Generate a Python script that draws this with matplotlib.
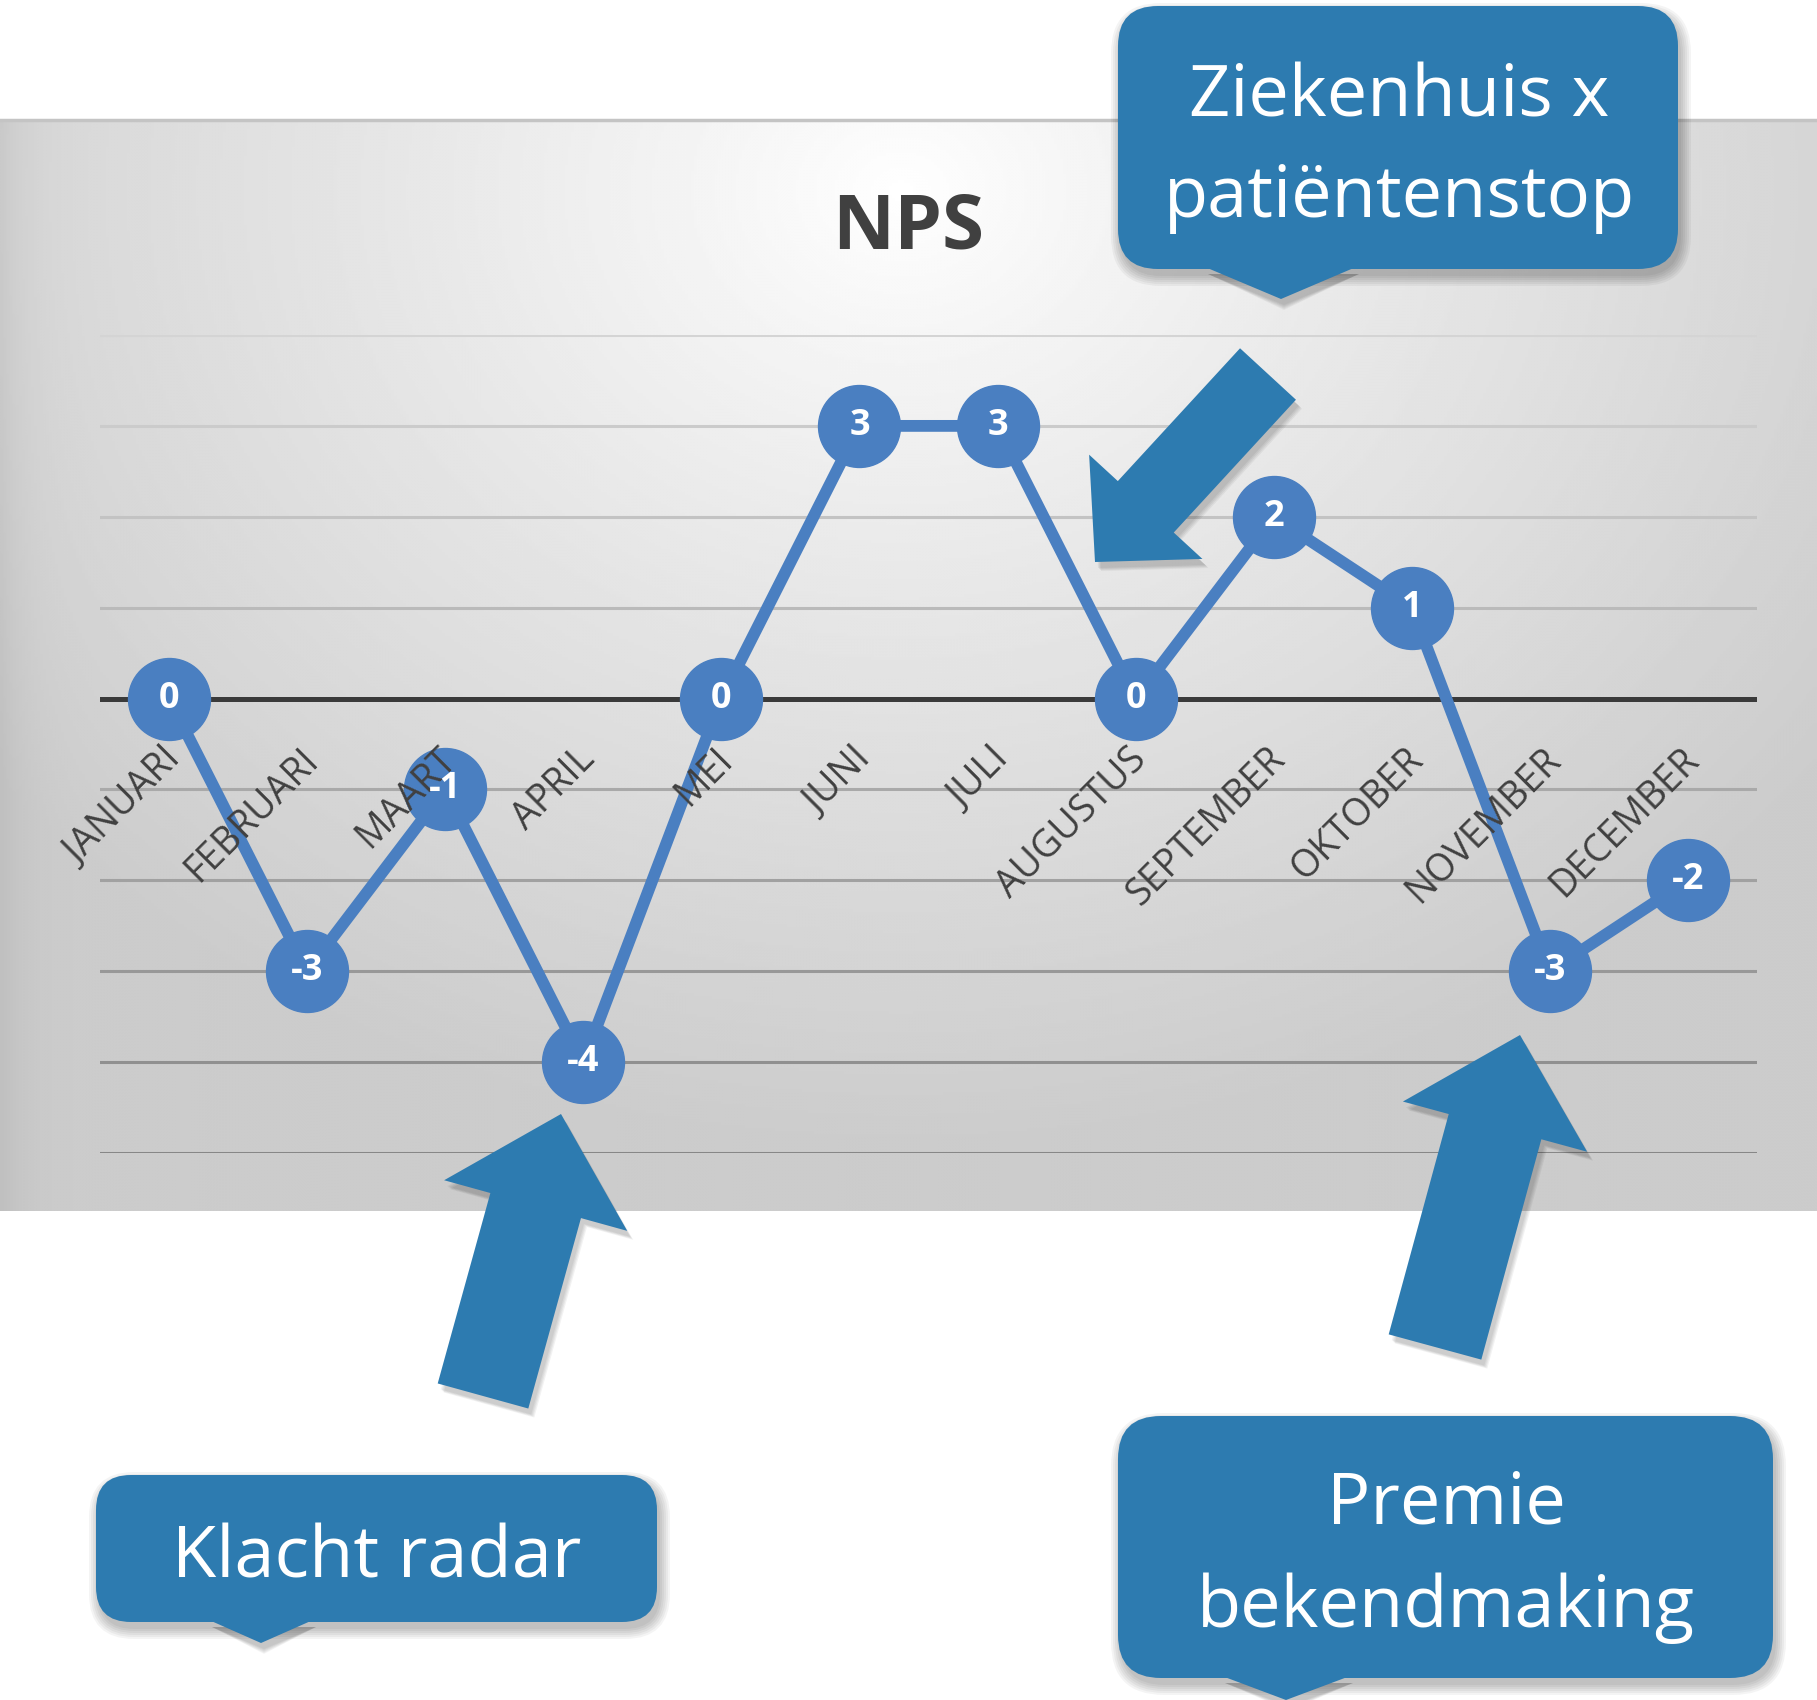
import matplotlib
matplotlib.use("Agg")
import matplotlib.pyplot as plt
import numpy as np
from matplotlib.patches import FancyBboxPatch, Polygon, FancyArrow

plt.rcParams['font.family'] = ['Open Sans', 'DejaVu Sans']

# data
maanden = ["JANUARI", "FEBRUARI", "MAART", "APRIL", "MEI", "JUNI", "JULI",
           "AUGUSTUS", "SEPTEMBER", "OKTOBER", "NOVEMBER", "DECEMBER"]
nps = [0, -3, -1, -4, 0, 3, 3, 0, 2, 1, -3, -2]
rasterlijnen = list(range(-5, 5))

W, H = 1817, 1700
BLAUW = '#4a7fc1'
CALLOUT = '#2d7bb0'

fig = plt.figure(figsize=(W / 100, H / 100), dpi=100)

# achtergrond paneel (pixel coordinaten, y naar beneden)
bg = fig.add_axes([0, 0, 1, 1], zorder=0)
bg.set_xlim(0, W)
bg.set_ylim(H, 0)
bg.axis("off")

yy, xx = np.mgrid[119:1211:3, 0:W:3]
r = np.sqrt(((xx - 900) / 1150.0) ** 2 + ((yy - 190) / 950.0) ** 2)
grijs = 1.0 - 0.2 * np.clip(r, 0, 1) ** 0.9
grijs -= 0.05 * np.exp(-xx / 25.0)
bg.imshow(grijs, cmap='gray', vmin=0, vmax=1, extent=(0, W, 1211, 119),
          aspect='auto', interpolation='bilinear')
bg.plot([0, W], [120, 120], color='#c4c4c4', lw=2.5)
bg.set_xlim(0, W)
bg.set_ylim(H, 0)

bg.text(908, 248, "NPS", ha='center', va='baseline', fontsize=55,
        fontweight='bold', color='#404040')

# grafiek
ax = fig.add_axes([100 / W, (H - 1153) / H, 1657 / W, (1153 - 335) / H], zorder=1)
ax.set_facecolor('none')
ax.set_xlim(-0.5, 11.5)
ax.set_ylim(-5, 4)
for s in ax.spines.values():
    s.set_visible(False)
ax.set_xticks([])
ax.set_yticks([])

for lvl in rasterlijnen:
    if lvl == 0:
        continue
    g = 0.83 - 0.3 * (4 - lvl) / 9.0
    ax.axhline(lvl, color=(g, g, g), lw=2.2, zorder=1)
ax.axhline(0, color='#3a3a3a', lw=3.6, zorder=1)

ax.plot(range(len(nps)), nps, color=BLAUW, lw=8.5, marker='o', ms=59,
        mec=BLAUW, mfc=BLAUW, zorder=3, solid_capstyle='round')

for i, m in enumerate(maanden):
    ax.annotate(m, xy=(i, 0), xytext=(4, -40), textcoords='offset points',
                rotation=45, ha='right', va='center', rotation_mode='anchor',
                fontsize=27, color='#404040', zorder=3.5, annotation_clip=False)

for i, v in enumerate(nps):
    ax.text(i, v, str(v), ha='center', va='center', color='white',
            fontsize=26, fontweight='bold', zorder=4)

# overlay: callouts en pijlen
ov = fig.add_axes([0, 0, 1, 1], zorder=3)
ov.set_facecolor('none')
ov.set_xlim(0, W)
ov.set_ylim(H, 0)
ov.axis("off")


def callout(x0, y0, x1, y1, rad, bl, br, tip, regels, basislijnen, cx):
    for k in range(6):
        sh = FancyBboxPatch((x0 + 3, y0 + 7), x1 - x0, y1 - y0,
                            boxstyle="round,pad=%d,rounding_size=%d" % (k * 2, rad + k * 2),
                            fc='black', ec='none', alpha=0.045)
        ov.add_patch(sh)
        ov.add_patch(Polygon([(bl + 3, y1 + 5), (br + 3, y1 + 5), (tip[0] + 3, tip[1] + 6 + k)],
                             fc='black', ec='none', alpha=0.04))
    ov.add_patch(FancyBboxPatch((x0, y0), x1 - x0, y1 - y0,
                                boxstyle="round,pad=0,rounding_size=%d" % rad,
                                fc=CALLOUT, ec='none'))
    ov.add_patch(Polygon([(bl, y1 - 2), (br, y1 - 2), tip], fc=CALLOUT, ec='none'))
    for t, b in zip(regels, basislijnen):
        ov.text(cx, b, t, ha='center', va='baseline', color='white', fontsize=52)


def pijl(tail, tip, w, hw, hl):
    dx, dy = tip[0] - tail[0], tip[1] - tail[1]
    for k in range(4):
        ov.add_patch(FancyArrow(tail[0] + 3 + k, tail[1] + 6 + k, dx, dy, width=w,
                                head_width=hw, head_length=hl,
                                length_includes_head=True, fc='black', ec='none',
                                alpha=0.05))
    ov.add_patch(FancyArrow(tail[0], tail[1], dx, dy, width=w, head_width=hw,
                            head_length=hl, length_includes_head=True,
                            fc=CALLOUT, ec='none'))


callout(1118, 6, 1678, 269, 40, 1205, 1356, (1281, 299),
        ["Ziekenhuis x", "patiëntenstop"], [116, 217], 1399)
callout(96, 1475, 657, 1622, 35, 209, 313, (261, 1643),
        ["Klacht radar"], [1578], 377)
callout(1118, 1416, 1773, 1678, 43, 1222, 1350, (1286, 1700),
        ["Premie", "bekendmaking"], [1523, 1627], 1446)

pijl((1268, 374), (1095, 562), 76, 154, 75)
pijl((483, 1396), (561, 1114), 94, 190, 95)
pijl((1435, 1347), (1520, 1035), 96, 191, 95)

fig.savefig("out.png", dpi=100)
